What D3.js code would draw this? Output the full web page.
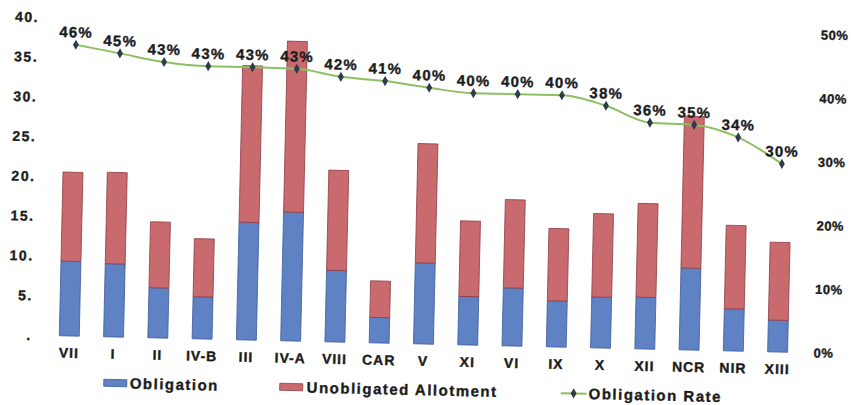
<!DOCTYPE html>
<html>
<head>
<meta charset="utf-8">
<script src="https://cdn.jsdelivr.net/npm/d3@7"></script>
<style>
  body { margin: 0; background: #fff; }
  text { font-family: "Liberation Sans", Arial, sans-serif; font-weight: bold; fill: #1c1c1c; stroke: #1c1c1c; stroke-width: 0.35px; }
</style>
</head>
<body>
<svg id="chart" width="851" height="405"></svg>
<script>
(function () {
  // values (billions)
  const regions = ['VII', 'I', 'II', 'IV-B', 'III', 'IV-A', 'VIII', 'CAR', 'V', 'XI', 'VI', 'IX', 'X', 'XII', 'NCR', 'NIR', 'XIII'];
  const obligation = [9.4, 9.2, 6.3, 5.3, 14.8, 16.2, 9.0, 3.2, 10.2, 6.1, 7.3, 5.8, 6.4, 6.5, 10.3, 5.3, 4.0];
  const unobligated = [11.2, 11.5, 8.3, 7.3, 19.7, 21.5, 12.6, 4.6, 15.0, 9.5, 11.1, 9.1, 10.5, 11.8, 19.1, 10.5, 9.8];
  const obligationRate = [0.458, 0.446, 0.434, 0.429, 0.429, 0.428, 0.417, 0.412, 0.403, 0.396, 0.396, 0.396, 0.381, 0.356, 0.354, 0.336, 0.296];

  const leftTicks = [0, 5, 10, 15, 20, 25, 30, 35, 40];
  const leftTickLabels = ['.', '5.', '10.', '15.', '20.', '25.', '30.', '35.', '40.'];
  const rightTicks = [0, 0.1, 0.2, 0.3, 0.4, 0.5];

  const blue = '#5f82c4', red = '#c86a6e', green = '#8cc063', marker = '#2f3b4a';

  let svg = d3.select('#chart');
  // the source is a slightly tilted scan
  let g = svg.append('g').attr('transform', 'rotate(1.3, 425, 200)');

  let x = d3.scaleBand().domain(regions).range([50.3, 803.1]).paddingInner(0.55).paddingOuter(0.275);
  let y = d3.scaleLinear().domain([0, 40]).range([344, 26]);
  let y2 = d3.scaleLinear().domain([0, 0.5]).range([344, 26]);

  // left axis labels
  g.selectAll('.ltick').data(leftTicks).enter().append('text')
    .attr('class', 'ltick')
    .attr('x', 35)
    .attr('y', d => y(d))
    .attr('dy', '0.35em')
    .attr('text-anchor', 'end')
    .style('font-size', '14px')
    .style('letter-spacing', '1.5px')
    .text((d, i) => leftTickLabels[i]);

  // right axis labels
  g.selectAll('.rtick').data(rightTicks).enter().append('text')
    .attr('class', 'rtick')
    .attr('x', 817)
    .attr('y', d => y2(d))
    .attr('dy', '0.35em')
    .style('font-size', '13px')
    .style('letter-spacing', '0.5px')
    .text(d3.format('.0%'));

  // stacked bars
  let stacked = regions.map((r, i) => ({ region: r, obl: obligation[i], unobl: unobligated[i] }));
  let series = d3.stack().keys(['obl', 'unobl'])(stacked);
  let colors = { obl: blue, unobl: red };
  let strokes = { obl: '#3d5c98', unobl: '#8e3d44' };

  g.selectAll('.series').data(series).enter().append('g')
    .attr('class', 'series')
    .attr('fill', d => colors[d.key])
    .attr('stroke', d => strokes[d.key])
    .attr('stroke-width', 0.8)
    .selectAll('rect').data(d => d).enter().append('rect')
    .attr('x', d => x(d.data.region))
    .attr('width', x.bandwidth())
    .attr('y', d => y(d[1]))
    .attr('height', d => y(d[0]) - y(d[1]));

  // category labels
  g.selectAll('.cat').data(regions).enter().append('text')
    .attr('class', 'cat')
    .attr('x', d => x(d) + x.bandwidth() / 2)
    .attr('y', 361)
    .attr('dy', '0.35em')
    .attr('text-anchor', 'middle')
    .style('font-size', '14px')
    .style('letter-spacing', '1px')
    .text(d => d);

  // obligation rate line
  let cx = d => x(d) + x.bandwidth() / 2;
  let line = d3.line()
    .x((d, i) => cx(regions[i]))
    .y(d => y2(d))
    .curve(d3.curveMonotoneX);

  g.append('path')
    .datum(obligationRate)
    .attr('fill', 'none')
    .attr('stroke', green)
    .attr('stroke-width', 2)
    .attr('d', line);

  g.selectAll('.mark').data(obligationRate).enter().append('path')
    .attr('class', 'mark')
    .attr('d', d3.symbol().type(d3.symbolDiamond).size(30))
    .attr('fill', marker)
    .attr('transform', (d, i) => 'translate(' + cx(regions[i]) + ',' + y2(d) + ')');

  g.selectAll('.rlabel').data(obligationRate).enter().append('text')
    .attr('class', 'rlabel')
    .attr('x', (d, i) => cx(regions[i]))
    .attr('y', d => y2(d) - 12.5)
    .attr('dy', '0.35em')
    .attr('text-anchor', 'middle')
    .style('font-size', '15px')
    .style('letter-spacing', '1.2px')
    .text(d3.format('.0%'));

  // legend
  let legend = g.append('g').attr('transform', 'translate(0,390)');
  legend.append('rect').attr('x', 108).attr('y', -3.5).attr('width', 23).attr('height', 7)
    .attr('fill', blue).attr('stroke', '#3d5c98').attr('stroke-width', 0.8);
  legend.append('text').attr('x', 134).attr('dy', '0.35em')
    .style('font-size', '15px').style('letter-spacing', '1.5px').text('Obligation');

  legend.append('rect').attr('x', 284).attr('y', -3.5).attr('width', 23).attr('height', 7)
    .attr('fill', red).attr('stroke', '#8e3d44').attr('stroke-width', 0.8);
  legend.append('text').attr('x', 311).attr('dy', '0.35em')
    .style('font-size', '15px').style('letter-spacing', '1.5px').text('Unobligated Allotment');

  legend.append('line').attr('x1', 565).attr('x2', 591).attr('y1', 0).attr('y2', 0)
    .attr('stroke', green).attr('stroke-width', 2);
  legend.append('path').attr('d', d3.symbol().type(d3.symbolDiamond).size(30))
    .attr('fill', marker).attr('transform', 'translate(578,0)');
  legend.append('text').attr('x', 593).attr('dy', '0.35em')
    .style('font-size', '15px').style('letter-spacing', '1.5px').text('Obligation Rate');
})();
</script>
</body>
</html>
